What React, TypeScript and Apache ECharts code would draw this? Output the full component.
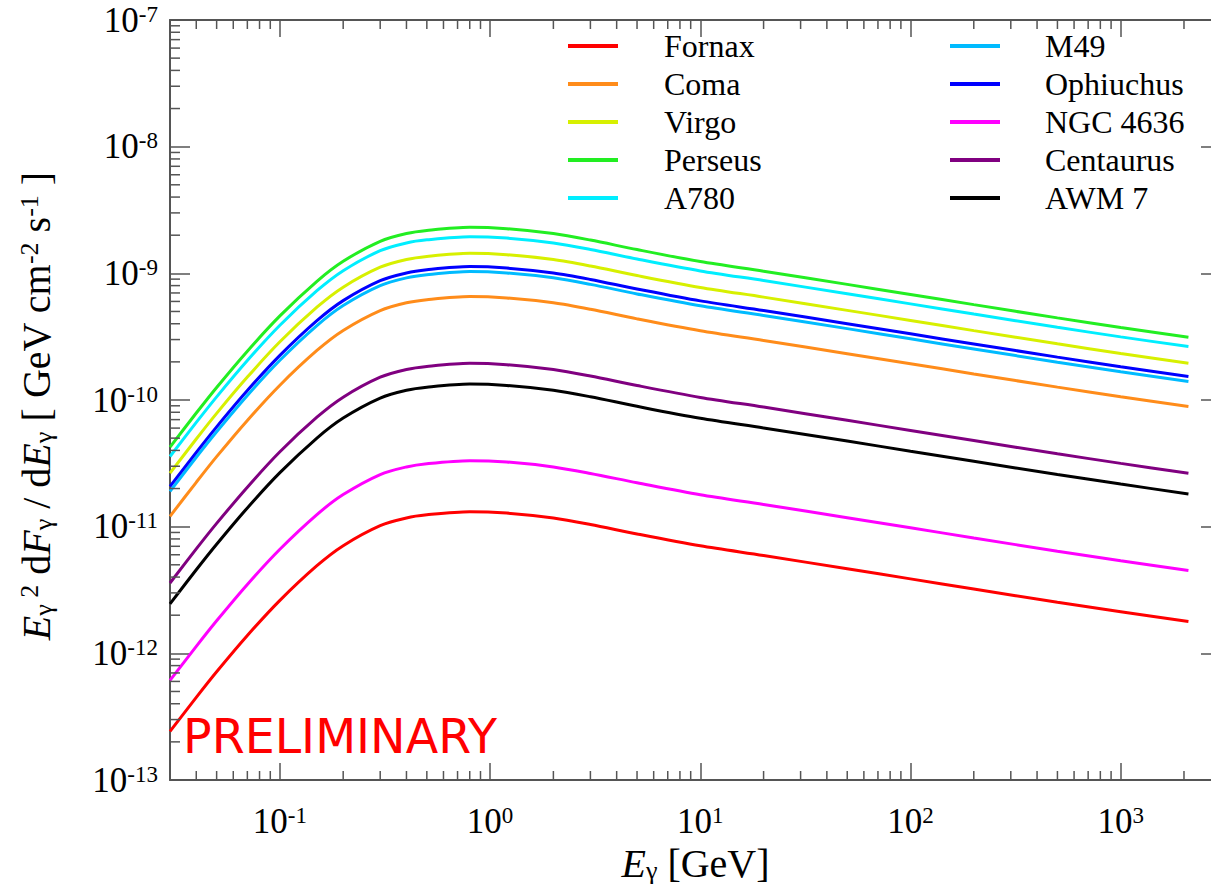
import React, { useEffect, useRef } from "react";
import * as echarts from "echarts";

// Photon energy grid (GeV)
const ENERGY = [0.03, 0.04, 0.05, 0.07, 0.1, 0.15, 0.2, 0.3, 0.4, 0.5, 0.8, 1.2, 2, 3, 5, 10, 20, 50, 100, 200, 500, 1000, 2100];

// E^2 dF/dE [GeV cm^-2 s^-1]
const FORNAX = [2.42e-13, 4.49e-13, 7.15e-13, 1.383e-12, 2.62e-12, 4.92e-12, 7.08e-12, 1.019e-11, 1.172e-11, 1.24e-11, 1.314e-11, 1.28e-11, 1.172e-11, 1.041e-11, 8.76e-12, 7.06e-12, 5.92e-12, 4.65e-12, 3.87e-12, 3.22e-12, 2.53e-12, 2.13e-12, 1.781e-12];
const COMA = [1.207e-11, 2.24e-11, 3.57e-11, 6.9e-11, 1.309e-10, 2.46e-10, 3.54e-10, 5.08e-10, 5.85e-10, 6.19e-10, 6.56e-10, 6.39e-10, 5.85e-10, 5.2e-10, 4.37e-10, 3.52e-10, 2.95e-10, 2.32e-10, 1.934e-10, 1.607e-10, 1.264e-10, 1.062e-10, 8.89e-11];
const VIRGO = [2.65e-11, 4.92e-11, 7.84e-11, 1.516e-10, 2.88e-10, 5.4e-10, 7.77e-10, 1.117e-9, 1.285e-9, 1.36e-9, 1.441e-9, 1.404e-9, 1.285e-9, 1.142e-9, 9.61e-10, 7.74e-10, 6.49e-10, 5.1e-10, 4.25e-10, 3.53e-10, 2.78e-10, 2.33e-10, 1.953e-10];
const PERSEUS = [4.25e-11, 7.89e-11, 1.256e-10, 2.43e-10, 4.61e-10, 8.65e-10, 1.245e-9, 1.79e-9, 2.06e-9, 2.18e-9, 2.31e-9, 2.25e-9, 2.06e-9, 1.83e-9, 1.54e-9, 1.24e-9, 1.04e-9, 8.18e-10, 6.81e-10, 5.66e-10, 4.45e-10, 3.74e-10, 3.13e-10];
const A780 = [3.58e-11, 6.65e-11, 1.059e-10, 2.05e-10, 3.89e-10, 7.29e-10, 1.05e-9, 1.509e-9, 1.737e-9, 1.838e-9, 1.947e-9, 1.897e-9, 1.737e-9, 1.543e-9, 1.298e-9, 1.045e-9, 8.77e-10, 6.9e-10, 5.74e-10, 4.77e-10, 3.75e-10, 3.15e-10, 2.64e-10];
const M49 = [1.9e-11, 3.53e-11, 5.61e-11, 1.086e-10, 2.06e-10, 3.87e-10, 5.57e-10, 8.0e-10, 9.21e-10, 9.74e-10, 1.033e-9, 1.006e-9, 9.21e-10, 8.18e-10, 6.88e-10, 5.54e-10, 4.65e-10, 3.66e-10, 3.04e-10, 2.53e-10, 1.989e-10, 1.672e-10, 1.399e-10];
const OPHIUCHUS = [2.08e-11, 3.86e-11, 6.14e-11, 1.188e-10, 2.25e-10, 4.23e-10, 6.09e-10, 8.75e-10, 1.007e-9, 1.066e-9, 1.13e-9, 1.1e-9, 1.007e-9, 8.95e-10, 7.53e-10, 6.06e-10, 5.09e-10, 4.0e-10, 3.33e-10, 2.77e-10, 2.18e-10, 1.829e-10, 1.531e-10];
const NGC4636 = [6.12e-13, 1.135e-12, 1.807e-12, 3.5e-12, 6.63e-12, 1.245e-11, 1.792e-11, 2.58e-11, 2.96e-11, 3.14e-11, 3.32e-11, 3.24e-11, 2.96e-11, 2.63e-11, 2.22e-11, 1.784e-11, 1.497e-11, 1.177e-11, 9.8e-12, 8.14e-12, 6.4e-12, 5.38e-12, 4.5e-12];
const CENTAURUS = [3.59e-12, 6.67e-12, 1.061e-11, 2.05e-11, 3.9e-11, 7.31e-11, 1.052e-10, 1.513e-10, 1.741e-10, 1.842e-10, 1.952e-10, 1.901e-10, 1.741e-10, 1.546e-10, 1.301e-10, 1.048e-10, 8.79e-11, 6.91e-11, 5.75e-11, 4.78e-11, 3.76e-11, 3.16e-11, 2.64e-11];
const AWM7 = [2.46e-12, 4.57e-12, 7.27e-12, 1.407e-11, 2.67e-11, 5.01e-11, 7.21e-11, 1.036e-10, 1.193e-10, 1.262e-10, 1.337e-10, 1.303e-10, 1.193e-10, 1.06e-10, 8.92e-11, 7.18e-11, 6.02e-11, 4.74e-11, 3.94e-11, 3.28e-11, 2.58e-11, 2.17e-11, 1.812e-11];

const SERIES_NAMES = ["Fornax", "Coma", "Virgo", "Perseus", "A780", "M49", "Ophiuchus", "NGC 4636", "Centaurus", "AWM 7"];
const SERIES_VALUES = [FORNAX, COMA, VIRGO, PERSEUS, A780, M49, OPHIUCHUS, NGC4636, CENTAURUS, AWM7];
const SERIES_COLORS = ["#ff0000", "#ff8c1a", "#d7f000", "#22ee22", "#00eeff", "#00bbff", "#0000ff", "#ff00ff", "#800080", "#000000"];

const LEGEND_LEFT = ["Fornax", "Coma", "Virgo", "Perseus", "A780"];
const LEGEND_RIGHT = ["M49", "Ophiuchus", "NGC 4636", "Centaurus", "AWM 7"];

// Axis ranges
const X_MIN = 0.03;
const X_MAX = 3000;
const Y_MIN = 1e-13;
const Y_MAX = 1e-7;

// Minor (log) tick values
const MINOR_MANTISSAS = [2, 3, 4, 5, 6, 7, 8, 9];
const X_MINOR_TICKS = [0.04, 0.05, 0.06, 0.07, 0.08, 0.09, 0.2, 0.3, 0.4, 0.5, 0.6, 0.7, 0.8, 0.9, 2, 3, 4, 5, 6, 7, 8, 9, 20, 30, 40, 50, 60, 70, 80, 90, 200, 300, 400, 500, 600, 700, 800, 900, 2000];
const Y_DECADES = [1e-13, 1e-12, 1e-11, 1e-10, 1e-9, 1e-8];

const SERIF = "'Liberation Serif', 'Times New Roman', serif";
const AXIS_COLOR = "#555";

function powLabel(v: number) {
  const e = Math.log10(v);
  const r = Math.round(e);
  if (Math.abs(e - r) > 1e-6) return "";
  return "{b|10}{s|" + r + "}";
}

export default function App() {
  const ref = useRef<HTMLDivElement>(null);

  useEffect(() => {
    if (!ref.current) return;
    const chart = echarts.init(ref.current, null, { renderer: "svg" });

    const yMinor: number[] = [];
    Y_DECADES.forEach((d) => MINOR_MANTISSAS.forEach((m) => yMinor.push(m * d)));

    const tickLabelRich = {
      b: { fontFamily: SERIF, fontSize: 35, color: "#000" },
      s: { fontFamily: SERIF, fontSize: 23, color: "#000", verticalAlign: "top" },
    };

    const nameRich = {
      i: { fontFamily: SERIF, fontSize: 40, fontStyle: "italic", color: "#000" },
      sub: { fontFamily: SERIF, fontSize: 26, verticalAlign: "bottom", color: "#000" },
      sup: { fontFamily: SERIF, fontSize: 26, verticalAlign: "top", color: "#000" },
    };

    const lineSeries = SERIES_NAMES.map((name, k) => ({
      name,
      type: "line",
      xAxisIndex: 0,
      yAxisIndex: 0,
      data: ENERGY.map((e, i) => [e, SERIES_VALUES[k][i]]),
      symbol: "none",
      smooth: 0.3,
      lineStyle: { color: SERIES_COLORS[k], width: 3 },
      itemStyle: { color: SERIES_COLORS[k] },
      z: 3,
    }));

    const tickStyle = { stroke: AXIS_COLOR, lineWidth: 1.5 };

    const legendCommon = {
      orient: "vertical",
      top: 22,
      icon: "rect",
      itemWidth: 50,
      itemHeight: 4,
      itemGap: 0,
      selectedMode: false,
    };

    const option: any = {
      animation: false,
      backgroundColor: "#fff",
      textStyle: { fontFamily: SERIF },
      grid: { left: 170, top: 20, width: 1051, height: 760 },
      legend: [
        {
          ...legendCommon,
          left: 563,
          data: LEGEND_LEFT,
          textStyle: { fontFamily: SERIF, fontSize: 32, color: "#000", lineHeight: 38, padding: [0, 0, 0, 41] },
        },
        {
          ...legendCommon,
          left: 945,
          data: LEGEND_RIGHT,
          textStyle: { fontFamily: SERIF, fontSize: 32, color: "#000", lineHeight: 38, padding: [0, 0, 0, 40] },
        },
      ],
      xAxis: [
        {
          type: "log",
          logBase: 10,
          min: X_MIN,
          max: X_MAX,
          splitNumber: 5,
          position: "bottom",
          axisLine: { show: true, lineStyle: { color: AXIS_COLOR, width: 2 } },
          axisTick: { show: true, inside: true, length: 17, lineStyle: { color: AXIS_COLOR, width: 1.5 } },
          splitLine: { show: false },
          axisLabel: {
            show: true,
            margin: 24,
            fontFamily: SERIF,
            fontSize: 35,
            color: "#000",
            showMinLabel: false,
            showMaxLabel: false,
            formatter: powLabel,
            rich: tickLabelRich,
          },
          name: "{i|E}{sub|γ} [GeV]",
          nameLocation: "middle",
          nameGap: 62,
          nameTextStyle: { fontFamily: SERIF, fontSize: 40, color: "#000", rich: nameRich },
        },
        {
          type: "log",
          logBase: 10,
          min: X_MIN,
          max: X_MAX,
          splitNumber: 5,
          position: "top",
          axisLine: { show: true, lineStyle: { color: AXIS_COLOR, width: 2 } },
          axisTick: { show: true, inside: true, length: 17, lineStyle: { color: AXIS_COLOR, width: 1.5 } },
          splitLine: { show: false },
          axisLabel: { show: false },
        },
      ],
      yAxis: [
        {
          type: "log",
          logBase: 10,
          min: Y_MIN,
          max: Y_MAX,
          splitNumber: 6,
          position: "left",
          axisLine: { show: true, lineStyle: { color: AXIS_COLOR, width: 2 } },
          axisTick: { show: true, inside: true, length: 20, lineStyle: { color: AXIS_COLOR, width: 1.5 } },
          splitLine: { show: false },
          axisLabel: {
            show: true,
            margin: 12,
            fontFamily: SERIF,
            fontSize: 35,
            color: "#000",
            formatter: powLabel,
            rich: tickLabelRich,
          },
          name: "{i|E}{sub|γ}{sup| 2} d{i|F}{sub|γ} / d{i|E}{sub|γ} [ GeV cm{sup|-2} s{sup|-1} ]",
          nameLocation: "middle",
          nameRotate: 90,
          nameGap: 114,
          nameTextStyle: { fontFamily: SERIF, fontSize: 40, color: "#000", rich: nameRich, padding: [0, 12, 0, 0] },
        },
        {
          type: "log",
          logBase: 10,
          min: Y_MIN,
          max: Y_MAX,
          splitNumber: 6,
          position: "right",
          axisLine: { show: true, lineStyle: { color: AXIS_COLOR, width: 2 } },
          axisTick: { show: true, inside: true, length: 20, lineStyle: { color: AXIS_COLOR, width: 1.5 } },
          splitLine: { show: false },
          axisLabel: { show: false },
        },
      ],
      series: [
        ...lineSeries,
        {
          type: "custom",
          name: "xMinor",
          xAxisIndex: 0,
          yAxisIndex: 0,
          silent: true,
          clip: false,
          z: 5,
          encode: { x: 0, y: 1 },
          data: X_MINOR_TICKS.map((v) => [v, Y_MIN]),
          renderItem: (params: any, api: any) => {
            const v = api.value(0);
            const b = api.coord([v, Y_MIN]);
            const t = api.coord([v, Y_MAX]);
            return {
              type: "group",
              children: [
                { type: "line", shape: { x1: b[0], y1: b[1], x2: b[0], y2: b[1] - 9 }, style: tickStyle },
                { type: "line", shape: { x1: t[0], y1: t[1], x2: t[0], y2: t[1] + 9 }, style: tickStyle },
              ],
            };
          },
        },
        {
          type: "custom",
          name: "yMinor",
          xAxisIndex: 0,
          yAxisIndex: 0,
          silent: true,
          clip: false,
          z: 5,
          encode: { x: 0, y: 1 },
          data: yMinor.map((v) => [X_MIN, v]),
          renderItem: (params: any, api: any) => {
            const v = api.value(1);
            const l = api.coord([X_MIN, v]);
            const r = api.coord([X_MAX, v]);
            return {
              type: "group",
              children: [
                { type: "line", shape: { x1: l[0], y1: l[1], x2: l[0] + 10, y2: l[1] }, style: tickStyle },
                { type: "line", shape: { x1: r[0], y1: r[1], x2: r[0] - 10, y2: r[1] }, style: tickStyle },
              ],
            };
          },
        },
      ],
      graphic: [
        {
          type: "text",
          left: 183,
          top: 712,
          z: 10,
          style: {
            text: "PRELIMINARY",
            fill: "#ff0000",
            fontFamily: "DejaVu Sans",
            fontSize: 47.5,
          },
        },
      ],
    };

    chart.setOption(option);
    return () => chart.dispose();
  }, []);

  return (
    <div
      style={{
        position: "fixed",
        left: 0,
        top: 0,
        width: 1211,
        height: 889,
        overflow: "hidden",
        background: "#fff",
      }}
    >
      <div ref={ref} style={{ width: 1240, height: 889 }} />
    </div>
  );
}
